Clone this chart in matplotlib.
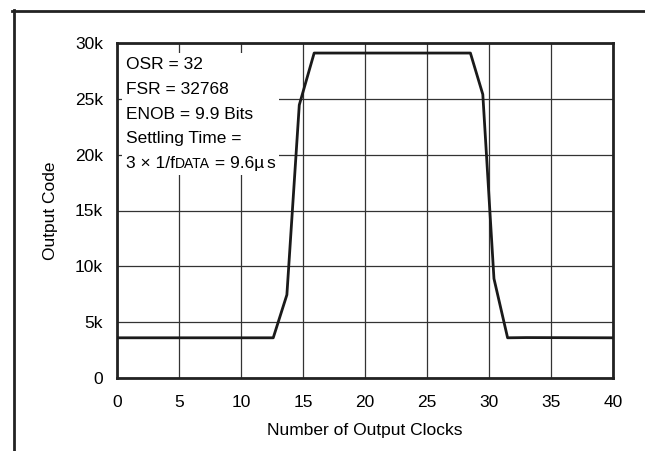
import matplotlib
matplotlib.use("Agg")
import matplotlib.pyplot as plt
from matplotlib.lines import Line2D
from matplotlib.offsetbox import TextArea, HPacker, VPacker, AnchoredOffsetbox

plt.rcParams['font.family'] = ['Liberation Sans', 'DejaVu Sans']

clocks = [0, 12.6, 13.7, 14.7, 15.9, 28.5, 29.5, 30.4, 31.5, 33.0, 40]
codes = [3600, 3600, 7450, 24450, 29100, 29100, 25400, 8900, 3600, 3620, 3600]

x_ticks = [0, 5, 10, 15, 20, 25, 30, 35, 40]
y_ticks = [0, 5000, 10000, 15000, 20000, 25000, 30000]
y_ticklabels = ["0", "5k", "10k", "15k", "20k", "25k", "30k"]

fs = 12.5

fig = plt.figure(figsize=(6.45, 4.51), dpi=100)
ax = fig.add_axes([117/645, 1 - 378/451, (613-117)/645, (378-43)/451])

ax.plot(clocks, codes, color='#1a1a1a', lw=2.0, zorder=3)
ax.set_xlim(0, 40)
ax.set_ylim(0, 30000)
ax.set_xticks(x_ticks)
ax.set_yticks(y_ticks)
ax.set_yticklabels(y_ticklabels)
ax.tick_params(axis='x', length=0, labelsize=fs, pad=12.5)
ax.tick_params(axis='y', length=0, labelsize=fs, pad=10)
ax.grid(True, color='#333333', lw=0.9)
for s in ax.spines.values():
    s.set_linewidth(2)
    s.set_color('#222222')
ax.set_xlabel("Number of Output Clocks", fontsize=fs, labelpad=9)
ax.set_ylabel("Output Code", fontsize=fs, labelpad=12)

lines = [TextArea(t, textprops=dict(fontsize=fs)) for t in
         ["OSR = 32", "FSR = 32768", "ENOB = 9.9 Bits", "Settling Time ="]]
unit = HPacker(children=[TextArea(" = 9.6\u00b5", textprops=dict(fontsize=fs)),
                         TextArea("s", textprops=dict(fontsize=fs))],
               align="baseline", pad=0, sep=1.5)
last = HPacker(children=[TextArea("3 \u00d7 1/f", textprops=dict(fontsize=fs)),
                         TextArea("DATA", textprops=dict(fontsize=fs*0.8)),
                         unit],
               align="baseline", pad=0, sep=0)
box = VPacker(children=lines + [last], align="left", pad=0, sep=7)
anch = AnchoredOffsetbox(loc='upper left', child=box, pad=0.3, borderpad=0,
                         frameon=True, bbox_to_anchor=(5/496, 1 - 10/335),
                         bbox_transform=ax.transAxes)
anch.patch.set_facecolor('white')
anch.patch.set_edgecolor('none')
anch.zorder = 2
ax.add_artist(anch)

fig.add_artist(Line2D([12/645, 1], [1 - 11/451, 1 - 11/451], color='#222222', lw=2))
fig.add_artist(Line2D([14/645, 14/645], [0, 1 - 10/451], color='#222222', lw=2))

fig.savefig("out.png", dpi=100)
